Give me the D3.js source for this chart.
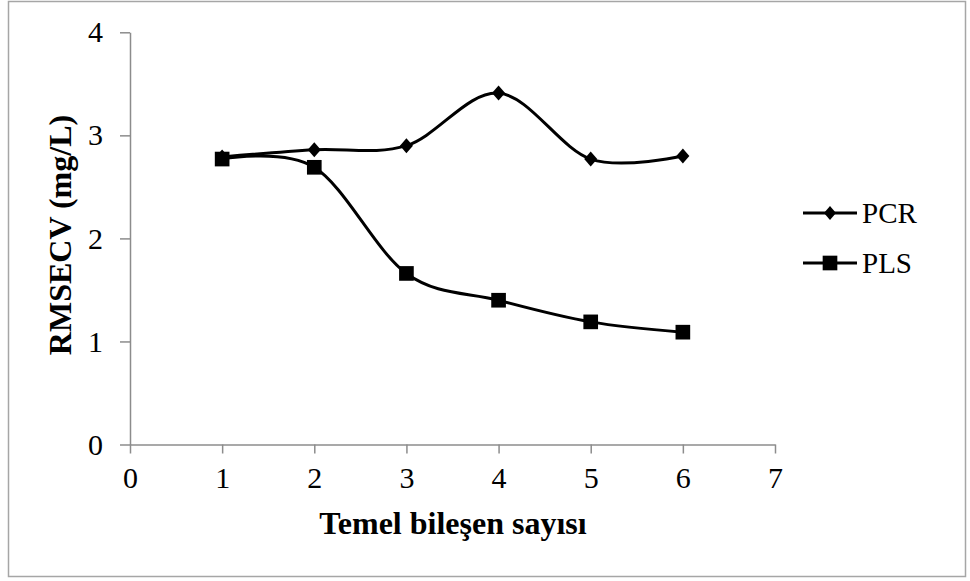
<!DOCTYPE html>
<html>
<head>
<meta charset="utf-8">
<script src="https://cdn.jsdelivr.net/npm/d3@7"></script>
<style>
  body { margin: 0; background: #fff; }
  text { font-family: "Liberation Serif", "Times New Roman", serif; fill: #000; }
</style>
</head>
<body>
<script>
var components = [1, 2, 3, 4, 5, 6];
var pcrValues = [2.79, 2.86, 2.90, 3.41, 2.77, 2.80];
var plsValues = [2.77, 2.69, 1.66, 1.40, 1.19, 1.09];
var xTicks = [0, 1, 2, 3, 4, 5, 6, 7];
var yTicks = [0, 1, 2, 3, 4];
var seriesNames = ["PCR", "PLS"];

var width = 970, height = 581;

var svg = d3.select("body")
  .append("svg")
  .attr("width", width)
  .attr("height", height);

// chart frame
svg.append("rect")
  .attr("x", 8.5).attr("y", 1.5)
  .attr("width", 957).attr("height", 575)
  .attr("fill", "none")
  .attr("stroke", "#a6a6a6")
  .attr("stroke-width", 1.5);

var xScale = d3.scaleLinear().domain([0, 7]).range([130, 775]);
var yScale = d3.scaleLinear().domain([0, 4]).range([444.5, 32.3]);

var xAxis = d3.axisBottom(xScale).tickValues(xTicks).tickFormat(d3.format("d"))
  .tickSize(9).tickSizeOuter(0).tickPadding(13);
var yAxis = d3.axisLeft(yScale).tickValues(yTicks).tickFormat(d3.format("d"))
  .tickSize(10).tickSizeOuter(0).tickPadding(17);

var gx = svg.append("g").attr("transform", "translate(0," + yScale(0) + ")").call(xAxis);
var gy = svg.append("g").attr("transform", "translate(" + xScale(0) + ",0)").call(yAxis);

[gx, gy].forEach(function(g){
  g.selectAll("path, line").attr("stroke", "#8c8c8c").attr("stroke-width", 1.5);
  g.selectAll("text")
    .attr("font-family", "Liberation Serif")
    .attr("font-size", 30)
    .attr("fill", "#000");
});

var line = d3.line()
  .x(function(d, i){ return xScale(components[i]); })
  .y(function(d){ return yScale(d); })
  .curve(d3.curveCatmullRom.alpha(0));

// excel-like diamond, a bit wider than d3's
var excelDiamond = {
  draw: function(context, size){
    var h = Math.sqrt(size) / 2, w = h * 0.87;
    context.moveTo(0, -h);
    context.lineTo(w, 0);
    context.lineTo(0, h);
    context.lineTo(-w, 0);
    context.closePath();
  }
};

var diamond = d3.symbol().type(excelDiamond).size(225);
var square = d3.symbol().type(d3.symbolSquare).size(215);

function drawSeries(values, shape){
  svg.append("path")
    .datum(values)
    .attr("d", line)
    .attr("fill", "none")
    .attr("stroke", "#000")
    .attr("stroke-width", 3);
  svg.append("g").selectAll("path")
    .data(values)
    .enter()
    .append("path")
    .attr("d", shape)
    .attr("transform", function(d, i){ return "translate(" + xScale(components[i]) + "," + yScale(d) + ")"; })
    .attr("fill", "#000");
}

drawSeries(pcrValues, diamond);
drawSeries(plsValues, square);

// axis titles
svg.append("text")
  .attr("x", 453).attr("y", 534)
  .attr("text-anchor", "middle")
  .attr("font-weight", "bold")
  .attr("font-size", 32)
  .text("Temel bileşen sayısı");

svg.append("text")
  .attr("transform", "translate(71,235) rotate(-90)")
  .attr("text-anchor", "middle")
  .attr("font-weight", "bold")
  .attr("font-size", 32)
  .text("RMSECV (mg/L)");

// legend
var legend = svg.append("g").selectAll("g")
  .data(seriesNames)
  .enter()
  .append("g")
  .attr("transform", function(d, i){ return "translate(803," + (213 + i * 50) + ")"; });

legend.append("line")
  .attr("x1", 0).attr("x2", 54)
  .attr("stroke", "#000")
  .attr("stroke-width", 3);

legend.append("path")
  .attr("d", function(d, i){ return i === 0 ? diamond.size(190)() : square(); })
  .attr("transform", "translate(27,0)")
  .attr("fill", "#000");

legend.append("text")
  .attr("x", 59).attr("y", 9.5)
  .attr("font-size", 29)
  .text(function(d){ return d; });
</script>
</body>
</html>
